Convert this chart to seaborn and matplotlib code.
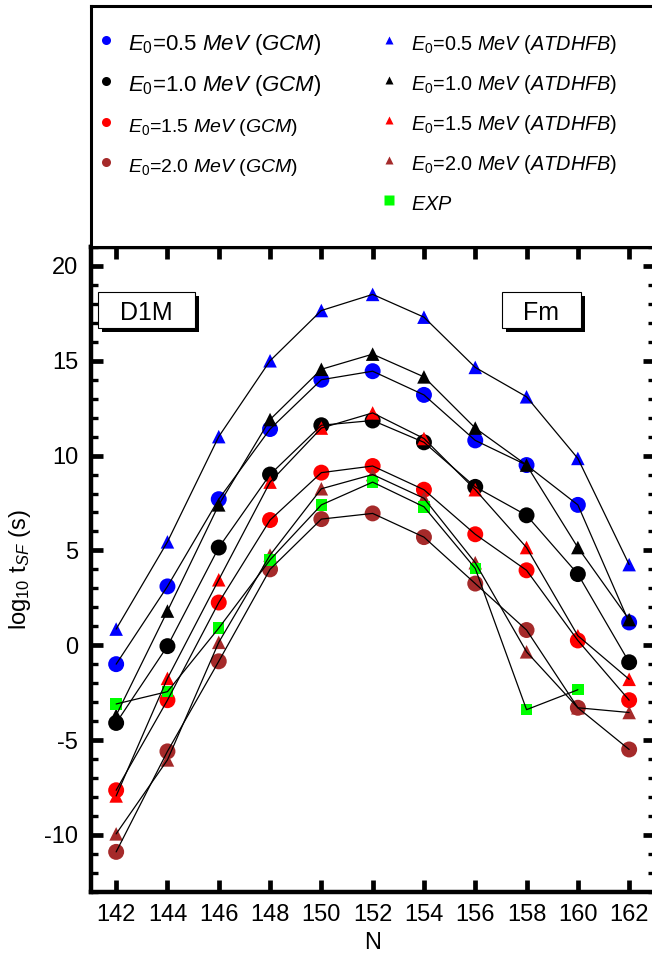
import numpy as np
import pandas as pd
import matplotlib
matplotlib.use("Agg")
import matplotlib.pyplot as plt
import seaborn as sns
from matplotlib.lines import Line2D
from matplotlib.patches import Rectangle
from matplotlib.ticker import MultipleLocator, NullLocator

# ---------------- data ----------------
N = [142, 144, 146, 148, 150, 152, 154, 156, 158, 160, 162]

gcm_05 = [-1.0, 3.1, 7.7, 11.4, 14.0, 14.45, 13.2, 10.8, 9.5, 7.4, 1.2]
gcm_10 = [-4.1, -0.05, 5.15, 9.0, 11.6, 11.85, 10.7, 8.35, 6.85, 3.75, -0.9]
gcm_15 = [-7.65, -2.9, 2.25, 6.6, 9.1, 9.45, 8.2, 5.85, 3.95, 0.25, -2.9]
gcm_20 = [-10.9, -5.6, -0.85, 4.0, 6.65, 6.95, 5.7, 3.25, 0.8, -3.3, -5.5]

atd_05 = [0.85, 5.45, 11.0, 15.0, 17.65, 18.5, 17.3, 14.65, 13.1, 9.85, 4.25]
atd_10 = [-3.7, 1.8, 7.4, 11.9, 14.55, 15.35, 14.15, 11.45, 9.5, 5.15, 1.35]
atd_15 = [-7.95, -1.75, 3.45, 8.6, 11.45, 12.25, 10.9, 8.2, 5.15, 0.5, -1.8]
atd_20 = [-9.95, -6.05, 0.15, 4.75, 8.25, 9.0, 7.75, 4.35, -0.35, -3.3, -3.55]

exp_N = [142, 144, 146, 148, 150, 152, 154, 156, 158, 160]
exp_vals = [-3.1, -2.45, 0.9, 4.5, 7.4, 8.6, 7.3, 4.05, -3.4, -2.35]

labels_gcm = [r"$E_0$=0.5 $MeV$ ($GCM$)", r"$E_0$=1.0 $MeV$ ($GCM$)",
              r"$E_0$=1.5 $MeV$ ($GCM$)", r"$E_0$=2.0 $MeV$ ($GCM$)"]
labels_atd = [r"$E_0$=0.5 $MeV$ ($ATDHFB$)", r"$E_0$=1.0 $MeV$ ($ATDHFB$)",
              r"$E_0$=1.5 $MeV$ ($ATDHFB$)", r"$E_0$=2.0 $MeV$ ($ATDHFB$)"]
label_exp = r"$EXP$"

colors = ["#0000ff", "#000000", "#ff0000", "#a52a2a"]
exp_color = "#00ff00"

x_ticks = [142, 144, 146, 148, 150, 152, 154, 156, 158, 160, 162]
y_ticks = [-10, -5, 0, 5, 10, 15, 20]

# ---------------- style ----------------
sns.set_theme(style="white")
plt.rcParams.update({
    "font.family": ["Liberation Sans", "DejaVu Sans"],
    "mathtext.fontset": "custom",
    "mathtext.rm": "Liberation Sans",
    "mathtext.it": "Liberation Sans:italic",
    "mathtext.bf": "Liberation Sans:bold",
    "mathtext.sf": "Liberation Sans",
    "axes.unicode_minus": False,
    "text.color": "black",
    "axes.labelcolor": "black",
    "xtick.color": "black",
    "ytick.color": "black",
})

W, H = 652, 963
fig = plt.figure(figsize=(W / 100, H / 100), dpi=100)
fig.patch.set_facecolor("white")

ax_left, ax_right_px, ax_top, ax_bot = 90.5, 654.8, 247.0, 891.7
ax = fig.add_axes([ax_left / W, 1 - ax_bot / H, (ax_right_px - ax_left) / W, (ax_bot - ax_top) / H])

series = [
    (N, gcm_05, colors[0], "o", 132),
    (N, atd_05, colors[0], "^", 95),
    (N, gcm_10, colors[1], "o", 132),
    (N, atd_10, colors[1], "^", 95),
    (N, gcm_15, colors[2], "o", 132),
    (N, atd_15, colors[2], "^", 95),
    (N, gcm_20, colors[3], "o", 132),
    (N, atd_20, colors[3], "^", 95),
    (exp_N, exp_vals, exp_color, "s", 68),
]

for k, (xs, ys, c, m, s) in enumerate(series):
    df = pd.DataFrame({"N": xs, "v": ys})
    sns.scatterplot(data=df, x="N", y="v", ax=ax, color=c, marker=m, s=s,
                    edgecolor="none", linewidth=0, legend=False, zorder=3 + 0.01 * k)
for k, (xs, ys, c, m, s) in enumerate(series):
    df = pd.DataFrame({"N": xs, "v": ys})
    sns.lineplot(data=df, x="N", y="v", ax=ax, color="black", lw=0.9,
                 legend=False, zorder=4, errorbar=None)

ax.set_xlim(141, 163)
ax.set_ylim(-13, 21)
ax.set_xticks(x_ticks)
ax.set_xticklabels([str(t) for t in x_ticks])
ax.set_yticks(y_ticks)
ax.set_yticklabels([str(t) for t in y_ticks])
ax.xaxis.set_minor_locator(NullLocator())
ax.yaxis.set_minor_locator(MultipleLocator(1))
ax.tick_params(axis="both", which="major", direction="in", length=8.6, width=3.4,
               top=True, right=True, bottom=True, left=True, labelsize=17, pad=9)
ax.tick_params(axis="y", which="minor", direction="in", length=5, width=2.4,
               left=True, right=True)
for sp in ax.spines.values():
    sp.set_linewidth(3.2)
    sp.set_color("black")
ax.set_xlabel("N", fontsize=17, labelpad=4)
ax.set_ylabel(r"log$_{10}$ t$_{SF}$ (s)", fontsize=17, labelpad=8)
ax.set_facecolor("white")

# annotation boxes with shadow
axw = ax_right_px - ax_left
axh = ax_bot - ax_top
def shadow_box(x0px, x1px, y0px, y1px, text):
    x0 = (x0px - ax_left) / axw
    x1 = (x1px - ax_left) / axw
    yb = (ax_bot - y1px) / axh
    yt = (ax_bot - y0px) / axh
    dx = 4 / axw
    dy = 4 / axh
    ax.add_patch(Rectangle((x0 + dx, yb - dy), x1 - x0, yt - yb, transform=ax.transAxes,
                           facecolor="black", edgecolor="none", zorder=6))
    ax.add_patch(Rectangle((x0, yb), x1 - x0, yt - yb, transform=ax.transAxes,
                           facecolor="white", edgecolor="black", lw=0.8, zorder=7))
    ax.text((x0 + x1) / 2, (yb + yt) / 2, text, transform=ax.transAxes, ha="center",
            va="center_baseline", fontsize=18, zorder=8)

shadow_box(98, 195, 292, 328, "D1M")
shadow_box(501.7, 581, 292, 328, "Fm")

# legend box
ax_leg = fig.add_axes([91 / W, 1 - 247 / H, (ax_right_px - 91) / W, (247 - 6) / H])
ax_leg.set_xticks([])
ax_leg.set_yticks([])
ax_leg.set_facecolor("white")
for sp in ax_leg.spines.values():
    sp.set_linewidth(2.2)
    sp.set_color("black")

handles, labels = [], []
for i in range(4):
    handles.append(Line2D([], [], ls="none", marker="o", ms=6.5, color=colors[i], mec="none"))
    labels.append(labels_gcm[i])
handles.append(Line2D([], [], ls="none", marker="none"))
labels.append(" ")
for i in range(4):
    handles.append(Line2D([], [], ls="none", marker="^", ms=6, color=colors[i], mec="none"))
    labels.append(labels_atd[i])
handles.append(Line2D([], [], ls="none", marker="s", ms=7.5, color=exp_color, mec="none"))
labels.append(label_exp)

leg = fig.legend(handles, labels, ncol=2, loc="upper left",
                 bbox_to_anchor=(96 / W, 1 - 31 / H), bbox_transform=fig.transFigure,
                 frameon=False, fontsize=15, handlelength=1.0, handletextpad=0.55,
                 handleheight=1.4, columnspacing=2.75, labelspacing=0.72,
                 borderpad=0, borderaxespad=0)
texts = leg.get_texts()
for t in texts[0:2]:
    t.set_fontsize(16)
for t in texts[2:4]:
    t.set_fontsize(14)
for t in texts[5:]:
    t.set_fontsize(14.3)

fig.savefig("out.png", dpi=100, facecolor="white")
